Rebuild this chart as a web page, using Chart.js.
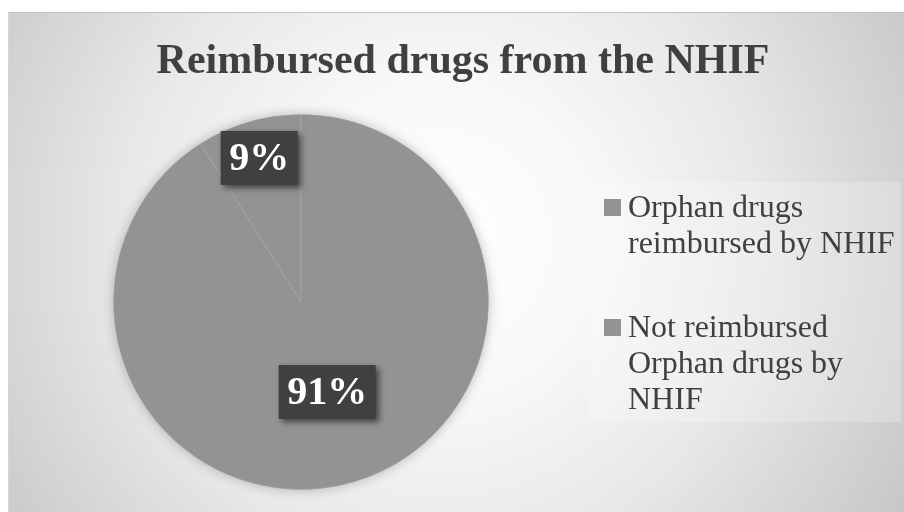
<!DOCTYPE html>
<html>
<head>
<meta charset="utf-8">
<script src="https://cdn.jsdelivr.net/npm/chart.js@4.4.1/dist/chart.umd.min.js"></script>
<style>
  html, body { margin: 0; padding: 0; background: #ffffff; }
  #wrap { width: 904px; height: 512px; }
</style>
</head>
<body>
<div id="wrap"><canvas id="pieChart" width="904" height="512"></canvas></div>
<script>
const chartTitle = "Reimbursed drugs from the NHIF";
const sliceLabels = [
  ["Orphan drugs", "reimbursed by NHIF"],
  ["Not reimbursed", "Orphan drugs by", "NHIF"]
];
const sliceValues = [9, 91];
const sliceColors = ["#939393", "#939393"];

const total = sliceValues.reduce((a, b) => a + b, 0);
const serif = '"Liberation Serif", "Times New Roman", serif';

// frame, gradient and legend panel behind everything
const backgroundPlugin = {
  id: "background",
  beforeDraw(chart) {
    const { ctx } = chart;
    ctx.save();
    ctx.fillStyle = "#ffffff";
    ctx.fillRect(0, 0, chart.width, chart.height);

    const grad = ctx.createRadialGradient(440, 240, 0, 440, 240, 530);
    grad.addColorStop(0, "#ffffff");
    grad.addColorStop(0.3, "#f8f8f8");
    grad.addColorStop(0.6, "#e8e8e8");
    grad.addColorStop(1, "#c8c8c8");
    ctx.fillStyle = grad;
    ctx.fillRect(8, 12, 896, 500);

    ctx.fillStyle = "#c0c0c0";
    ctx.fillRect(8, 12, 896, 1);
    ctx.fillStyle = "#d6d6d6";
    ctx.fillRect(8, 12, 1, 500);

    ctx.fillStyle = "rgba(255, 255, 255, 0.22)";
    ctx.fillRect(590, 182, 311, 240);

    ctx.fillStyle = "#404040";
    ctx.font = "bold 42px " + serif;
    ctx.textAlign = "center";
    ctx.textBaseline = "alphabetic";
    ctx.fillText(chartTitle, 463, 73);
    ctx.restore();
  },
  beforeDatasetsDraw(chart) {
    // soft shadow under the whole pie
    const arc = chart.getDatasetMeta(0).data[0];
    if (!arc) return;
    const { x, y, outerRadius } = arc.getProps(["x", "y", "outerRadius"], true);
    const { ctx } = chart;
    ctx.save();
    ctx.shadowColor = "rgba(0, 0, 0, 0.25)";
    ctx.shadowBlur = 12;
    ctx.fillStyle = sliceColors[0];
    ctx.beginPath();
    ctx.arc(x, y, outerRadius, 0, Math.PI * 2);
    ctx.fill();
    ctx.restore();
  }
};

// dark percentage boxes on the slices
const labelRadius = [0.8, 0.5];
const percentLabelPlugin = {
  id: "percentLabels",
  afterDatasetsDraw(chart) {
    const { ctx } = chart;
    const meta = chart.getDatasetMeta(0);
    ctx.save();
    ctx.font = "bold 40px " + serif;
    ctx.textAlign = "center";
    ctx.textBaseline = "middle";
    meta.data.forEach((arc, i) => {
      const p = arc.getProps(["x", "y", "startAngle", "endAngle", "outerRadius"], true);
      const mid = (p.startAngle + p.endAngle) / 2;
      const r = p.outerRadius * labelRadius[i];
      const cx = p.x + Math.cos(mid) * r;
      const cy = p.y + Math.sin(mid) * r;
      const text = Math.round(sliceValues[i] / total * 100) + "%";
      const w = ctx.measureText(text).width + 17;
      const h = 54;

      ctx.save();
      ctx.shadowColor = "rgba(0, 0, 0, 0.55)";
      ctx.shadowBlur = 6;
      ctx.shadowOffsetX = 3;
      ctx.shadowOffsetY = 3;
      ctx.fillStyle = "#404040";
      ctx.fillRect(cx - w / 2, cy - h / 2, w, h);
      ctx.restore();

      ctx.fillStyle = "#ffffff";
      ctx.fillText(text, cx, cy + 2);
    });
    ctx.restore();
  }
};

// legend on the right with wrapped labels
const legendPlugin = {
  id: "sideLegend",
  afterDraw(chart) {
    const { ctx } = chart;
    ctx.save();
    ctx.font = "32px " + serif;
    ctx.textAlign = "left";
    ctx.textBaseline = "alphabetic";
    let baseline = 217;
    chart.data.labels.forEach((lines, i) => {
      ctx.fillStyle = chart.data.datasets[0].backgroundColor[i];
      ctx.fillRect(604, baseline - 18, 17, 17);
      ctx.fillStyle = "#404040";
      lines.forEach((line, j) => {
        ctx.fillText(line, 628, baseline + j * 36);
      });
      baseline += (lines.length - 1) * 36 + 84;
    });
    ctx.restore();
  }
};

new Chart(document.getElementById("pieChart"), {
  type: "pie",
  data: {
    labels: sliceLabels,
    datasets: [{
      data: sliceValues,
      backgroundColor: sliceColors,
      borderColor: "rgba(255, 255, 255, 0.12)",
      borderWidth: 1
    }]
  },
  options: {
    responsive: false,
    animation: false,
    rotation: -sliceValues[0] / total * 360,
    layout: {
      padding: { left: 113, right: 415, top: 114, bottom: 22 }
    },
    plugins: {
      legend: { display: false },
      title: { display: false },
      tooltip: { enabled: false }
    }
  },
  plugins: [backgroundPlugin, percentLabelPlugin, legendPlugin]
});
</script>
</body>
</html>
